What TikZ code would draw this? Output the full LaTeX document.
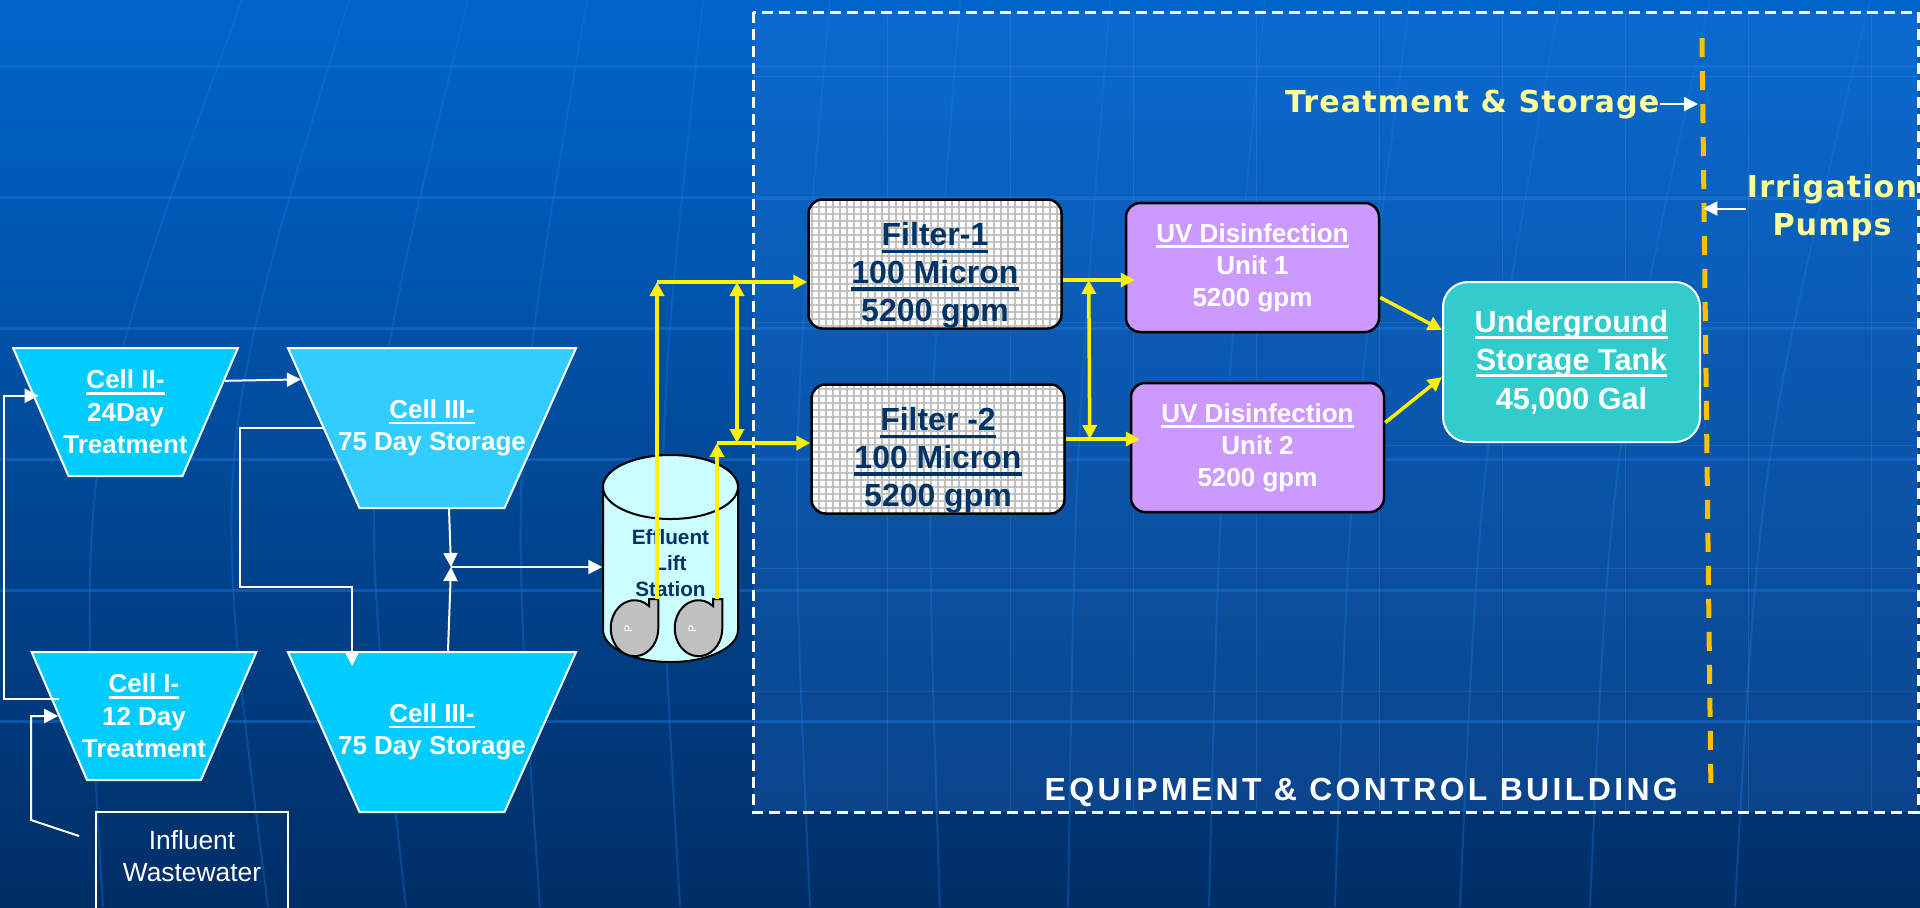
\documentclass[tikz,border=0pt]{standalone}
\usepackage{fontspec}
\setmainfont{Liberation Sans}
\newfontfamily\signfont{DejaVu Sans}
\usetikzlibrary{shapes.geometric,arrows.meta,calc,patterns.meta}

% colours
\definecolor{bgtop}{RGB}{0,102,204}
\definecolor{bgbottom}{RGB}{0,46,102}
\definecolor{bgstroke}{RGB}{25,118,224}
\definecolor{bldfill}{RGB}{40,120,220}
\definecolor{pondcyan}{RGB}{0,204,255}
\definecolor{pondlight}{RGB}{51,204,255}
\definecolor{uvpurple}{RGB}{204,153,255}
\definecolor{tankteal}{RGB}{51,204,204}
\definecolor{navy}{RGB}{0,51,102}
\definecolor{signyellow}{RGB}{255,255,153}
\definecolor{divorange}{RGB}{255,192,0}
\definecolor{liftcyan}{RGB}{204,255,255}
\definecolor{pumpgray}{RGB}{192,192,192}
\definecolor{meshgray}{RGB}{192,192,192}

% underlined heading, rule just under the baseline
\newcommand{\ulbl}[1]{\setbox0\hbox{#1}\rlap{\rule[-0.22em]{\wd0}{0.1em}}\box0}

\begin{document}
\begin{tikzpicture}[x=0.1mm, y=-0.1mm,
    % Styles
    cellA/.style={% treatment cells (empty shape, size from inner seps)
        trapezium,
        trapezium left angle=113.4, trapezium right angle=113.4,
        inner xsep=5.7mm, inner ysep=6.4mm,
        draw=white, line width=0.2mm, fill=pondcyan,
        },
    cellB/.style={% storage cells
        cellA,
        trapezium left angle=114.1, trapezium right angle=114.1,
        inner xsep=7.25mm, inner ysep=8mm,
        },
    pondtext/.style={%
        text=white, inner sep=0pt, align=center,
        font=\bfseries\fontsize{7.4}{9.2}\selectfont,
        },
    filterbox/.style={% screen filters
        rectangle, rounded corners=1.4mm,
        preaction={fill=white},
        preaction={pattern={Lines[angle=0,distance=0.7mm,line width=0.2mm]}, pattern color=meshgray},
        preaction={pattern={Lines[angle=90,distance=0.7mm,line width=0.2mm]}, pattern color=meshgray},
        draw=black, line width=0.25mm,
        minimum width=25.3mm, minimum height=12.9mm,
        text=navy, inner sep=0pt, align=center,
        font=\bfseries\fontsize{9.1}{10.8}\selectfont,
        },
    uvbox/.style={% UV units
        rectangle, rounded corners=1.4mm,
        draw=black, line width=0.25mm, fill=uvpurple,
        minimum width=25.3mm, minimum height=12.9mm,
        text=white, inner sep=0pt, align=center,
        font=\bfseries\fontsize{7.4}{9.1}\selectfont,
        },
    tankbox/.style={% storage tank
        rectangle, rounded corners=2.5mm,
        draw=white, line width=0.2mm, fill=tankteal,
        minimum width=25.7mm, minimum height=16mm,
        text=white, inner sep=0pt, align=center,
        font=\bfseries\fontsize{8.7}{11}\selectfont,
        },
    inbox/.style={% influent box
        rectangle, draw=white, line width=0.2mm,
        minimum width=19.2mm, inner ysep=1.8mm,
        text=white, align=center,
        font=\fontsize{7.5}{9.1}\selectfont,
        },
    lifttext/.style={%
        minimum width=13.5mm, inner sep=0pt, align=center,
        text=navy, font=\bfseries\fontsize{5.9}{7.4}\selectfont,
        },
    liftbody/.style={draw=black, line width=0.2mm, fill=liftcyan},
    pumpbody/.style={draw=black, line width=0.2mm, fill=pumpgray},
    pumptag/.style={text=white, inner sep=0pt, rotate=90,
        font=\fontsize{3.2}{3.2}\selectfont},
    signtext/.style={% yellow area names
        text=signyellow, inner sep=0pt,
        font=\signfont\bfseries\fontsize{8.6}{10.9}\selectfont\addfontfeature{LetterSpace=3.5},
        },
    bldtext/.style={text=white, inner sep=0pt,
        font=\bfseries\fontsize{9.1}{11}\selectfont\addfontfeature{LetterSpace=10.5}},
    wflow/.style={draw=white, line width=0.2mm,
        -{Triangle[length=1.4mm,width=1.4mm]}},
    yflow/.style={draw=yellow, line width=0.35mm,
        -{Triangle[length=1.4mm,width=1.4mm]}},
    yboth/.style={yflow,
        {Triangle[length=1.4mm,width=1.4mm]}-{Triangle[length=1.4mm,width=1.4mm]}},
    bgrule/.style={draw=bgstroke, draw opacity=0.45, line width=0.3mm},
    bgcurve/.style={draw=bgstroke, draw opacity=0.35, line width=0.2mm},
    bldshade/.style={fill=bldfill, fill opacity=0.25},
    bldgrid/.style={draw=white, draw opacity=0.08, line width=0.1mm},
    bldedge/.style={draw=white, line width=0.3mm, dash pattern=on 1.1mm off 0.6mm},
    divline/.style={draw=divorange, line width=0.5mm, dash pattern=on 1.9mm off 1.4mm},
    ]

    % Page and background
    \useasboundingbox (0,0) rectangle (1920,907);
    \clip (0,0) rectangle (1920,907);
    \shade[top color=bgtop, bottom color=bgbottom] (0,0) rectangle (1920,907);
    \foreach \ly in {66,197,328,459,590,721}
        \draw[bgrule] (0,\ly) -- (1920,\ly);
    \foreach \xt/\xc/\xb in {242/76/103, 349/210/268, 468/356/406, 587/509/540,
            703/654/680, 830/790/810, 960/925/940, 1110/1075/1068, 1265/1220/1209,
            1410/1350/1335, 1560/1480/1460, 1710/1610/1590, 1870/1760/1735}
        \draw[bgcurve] (\xt,0) .. controls (\xc,453) .. (\xb,907);

    % Equipment & control building
    \fill[bldshade] (753,12) rectangle (1918,812);
    \foreach \gx in {887,1010,...,1871}
        \draw[bldgrid] (\gx,12) -- (\gx,812);
    \foreach \gy in {76,199,...,691}
        \draw[bldgrid] (753,\gy) -- (1918,\gy);
    \draw[bldedge] (753,12) rectangle (1918,812);

    % Divider between treatment and irrigation
    \coordinate (divtop) at (1702,38);
    \coordinate (divbot) at (1711,795);
    \draw[divline] (divtop) -- (divbot);

    % Ponds
    \node[cellA] (c2) at (125.5,412) {};
    \node[cellA] (c1) at (144,716) {};
    \node[cellB, fill=pondlight] (c3a) at (432,428) {};
    \node[cellB] (c3b) at (432,732) {};
    \node[pondtext] (c2txt) at (c2) {\ulbl{Cell II-}\\24Day\\Treatment};
    \node[pondtext] (c1txt) at (c1) {\ulbl{Cell I-}\\12 Day\\Treatment};
    \node[pondtext] (c3atxt) at (c3a) {\ulbl{Cell III-}\\75 Day Storage};
    \node[pondtext] (c3btxt) at (c3b) {\ulbl{Cell III-}\\75 Day Storage};
    \node[inbox, anchor=north] (infl) at (192,811) {Influent\\Wastewater\rule[-6mm]{0pt}{0pt}};

    % Effluent lift station
    \draw[liftbody] (603,487) -- (603,630)
        arc[start angle=180, end angle=0, x radius=67.5, y radius=32]
        -- (738,487)
        arc[start angle=0, end angle=-180, x radius=67.5, y radius=32] -- cycle;
    \draw[liftbody] (670.5,487) ellipse [x radius=67.5, y radius=32];
    \node[lifttext] (lift) at (670.5,563.5) {Effluent\\Lift\\Station};
    \foreach \px/\pn in {634.5/1,698.5/2}{
        \draw[pumpbody] ({\px+14.5},599) -- ({\px+14.5},606)
            arc[start angle=-52.5, end angle=-360, x radius=23.8, y radius=28]
            -- ({\px+23.8},599) -- cycle;
        \node[pumptag] (ptag\pn) at ({\px-6},629) {P};
    }

    % Treatment train
    \node[filterbox] (f1) at (935,264) {\rule{0pt}{4.6mm}\ulbl{Filter-1}\\\ulbl{100 Micron}\\5200 gpm};
    \node[filterbox] (f2) at (938,449) {\rule{0pt}{4.6mm}\ulbl{Filter -2}\\\ulbl{100 Micron}\\5200 gpm};
    \node[uvbox] (uv1) at (1252.5,267.5) {\ulbl{UV Disinfection}\\Unit 1\\5200 gpm};
    \node[uvbox] (uv2) at (1257.5,447.5) {\ulbl{UV Disinfection}\\Unit 2\\5200 gpm};
    \node[tankbox] (tank) at (1571.5,362) {\ulbl{Underground}\\\ulbl{Storage Tank}\\45,000 Gal};

    % Area names
    \node[signtext, anchor=base east] (tas) at (1660,112) {Treatment \& Storage};
    \node[signtext, anchor=north, align=center] (irr) at (1832,174) {Irrigation\\Pumps};
    \node[bldtext, anchor=base west] (bldg) at (1044,800) {EQUIPMENT \& CONTROL BUILDING};

    % Pond piping
    \coordinate (junc) at (451,567);
    \draw[wflow] ($(c2.top right corner)!.26!(c2.bottom right corner)$)
        -- ($(c3a.top left corner)!.2!(c3a.bottom left corner)$);
    \draw[wflow] (c3a.left side) -- ++(-83,0) |- ($(c3b.north)+(-80,-64)$)
        -- ($(c3b.north)+(-80,15)$);
    \draw[wflow] ($(c3a.south)+(17,0)$) -- (junc);
    \draw[wflow] ($(c3b.north)+(16,0)$) -- (junc);
    \draw[wflow] (junc) -- (junc -| lift.west);
    \draw[wflow] ($(c1.top left corner)!.37!(c1.bottom left corner)+(8,0)$) -- ++(-55,0)
        |- ($(c2.top left corner)!.375!(c2.bottom left corner)+(6,0)$);
    \draw[wflow] ($(infl.north west)+(-16,25)$) -- ++(-48,-16) |- (c1.left side);

    % Pumped effluent
    \coordinate (p1out) at (657,599);
    \coordinate (p2out) at (717,599);
    \coordinate (feed1) at (657,282);
    \coordinate (feed2) at (717,443);
    \draw[yflow] (p1out) -- (feed1);
    \draw[yflow] (feed1) -- (feed1 -| f1.west);
    \draw[yflow] (p2out) -- (feed2);
    \draw[yflow] (feed2) -- (feed2 -| f2.west);
    \draw[yboth] ($(feed1)+(80,0)$) -- ($(feed2)+(20,0)$);
    \coordinate (out1) at ([yshift=-1.6mm]f1.east);
    \coordinate (out2) at ([yshift=1mm]f2.east);
    \draw[yflow, shorten >=-1mm] (out1) -- (out1 -| uv1.west);
    \draw[yflow, shorten >=-1mm] (out2) -- (out2 -| uv2.west);
    \draw[yboth] ([xshift=2.6mm]out1) -- ([xshift=2.4mm]out2);
    \draw[yflow] ([yshift=-3mm]uv1.east) -- ([yshift=3.2mm]tank.west);
    \draw[yflow] ([yshift=2.5mm]uv2.east) -- ([yshift=-1.5mm]tank.west);

    % Pointers to the divider
    \draw[wflow] (tas.east) -- ++(38,0);
    \draw[wflow] (irr.west) -- ++(-43,0);
\end{tikzpicture}
\end{document}
